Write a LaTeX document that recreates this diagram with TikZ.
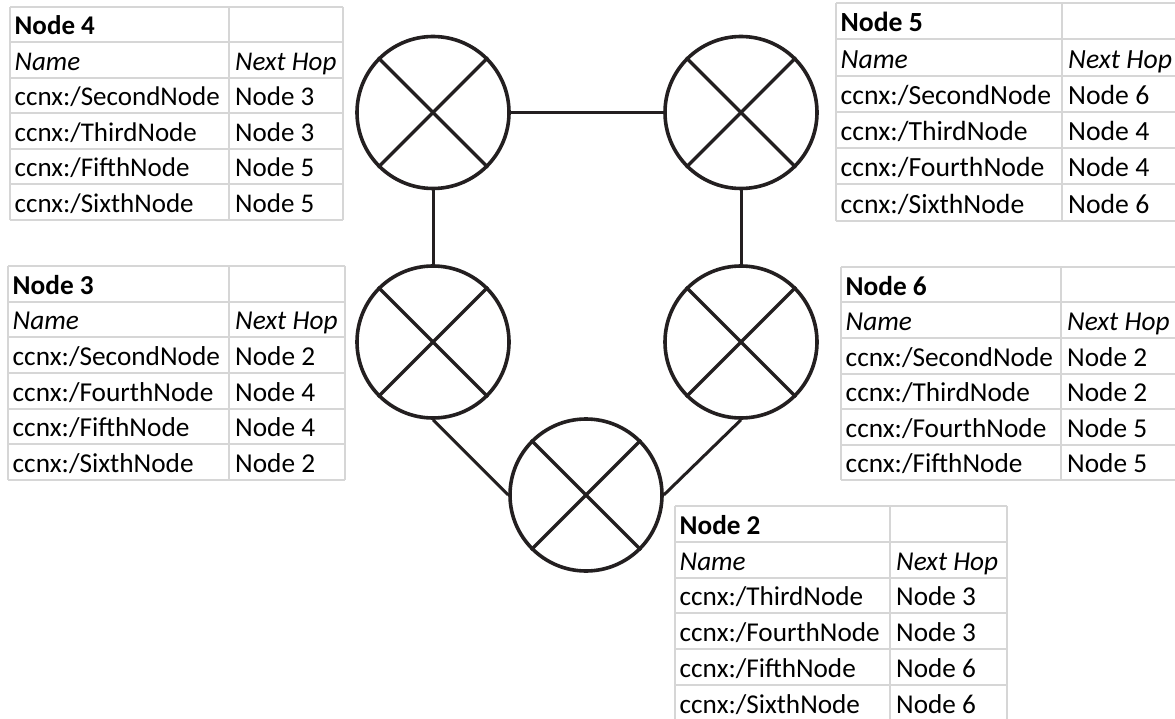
\documentclass[tikz,border=0pt]{standalone}
\usepackage{fontspec}
\setmainfont{Carlito}

\definecolor{gridgray}{HTML}{D6D6D6}
\definecolor{ink}{HTML}{231F20}

% Forwarding table: #1 name, #2 left x, #3 divider x, #4 right x,
% #5 top y, #6 row height, #7 title, #8 list of {prefix}/{next hop} pairs,
% #9 font size
\newcommand\fibtable[9]{%
  \foreach \i in {0,...,6}
    \draw[gridline] (#2,#5+\i*#6) -- (#4,#5+\i*#6);
  \foreach \xx in {#2,#3,#4}
    \draw[gridline] (\xx,#5) -- (\xx,#5+6*#6);
  \node[cell,font=\fontsize{#9}{#9}\selectfont\bfseries] (#1-title)
    at (#2,#5+#6) {#7};
  \node[cell,font=\fontsize{#9}{#9}\selectfont\itshape] (#1-hname)
    at (#2,#5+2*#6) {Name};
  \node[cell,xshift=1.5pt,font=\fontsize{#9}{#9}\selectfont\itshape] (#1-hhop)
    at (#3,#5+2*#6) {Next Hop};
  \foreach \nm/\hp [count=\k from 3] in {#8} {
    \node[cell,font=\fontsize{#9}{#9}\selectfont] (#1-n\k)
      at (#2,#5+\k*#6) {\nm};
    \node[cell,xshift=1.5pt,font=\fontsize{#9}{#9}\selectfont] (#1-h\k)
      at (#3,#5+\k*#6) {\hp};
  }%
}

\tikzset{
  gridline/.style={draw=gridgray, line width=2pt},
  cell/.style={anchor=base west, inner sep=0pt, xshift=4.5pt, yshift=7.5pt,
               text=black},
  router/.style={circle, draw=ink, line width=3.6pt, minimum size=152pt,
                 inner sep=0pt},
  crossline/.style={draw=ink, line width=3.3pt},
  link/.style={draw=ink, line width=3pt},
}

\begin{document}
\begin{tikzpicture}[x=1pt,y=-1pt]
  \useasboundingbox (0,0) rectangle (1175,719);
  \clip (0,0) rectangle (1175,719);

  % routing tables
  \fibtable{t4}{10}{229}{343}{7}{35.5}{Node 4}%
    {{ccnx:/SecondNode}/{Node 3}, {ccnx:/ThirdNode}/{Node 3},
     {ccnx:/FifthNode}/{Node 5}, {ccnx:/SixthNode}/{Node 5}}{27}
  \fibtable{t3}{8}{229}{345}{266}{35.67}{Node 3}%
    {{ccnx:/SecondNode}/{Node 2}, {ccnx:/FourthNode}/{Node 4},
     {ccnx:/FifthNode}/{Node 4}, {ccnx:/SixthNode}/{Node 2}}{27.3}
  \fibtable{t5}{836}{1062}{1185}{3}{36.3}{Node 5}%
    {{ccnx:/SecondNode}/{Node 6}, {ccnx:/ThirdNode}/{Node 4},
     {ccnx:/FourthNode}/{Node 4}, {ccnx:/SixthNode}/{Node 6}}{27.7}
  \fibtable{t6}{841}{1061}{1185}{267}{35.5}{Node 6}%
    {{ccnx:/SecondNode}/{Node 2}, {ccnx:/ThirdNode}/{Node 2},
     {ccnx:/FourthNode}/{Node 5}, {ccnx:/FifthNode}/{Node 5}}{27.3}
  \fibtable{t2}{675}{890}{1007}{506}{35.8}{Node 2}%
    {{ccnx:/ThirdNode}/{Node 3}, {ccnx:/FourthNode}/{Node 3},
     {ccnx:/FifthNode}/{Node 6}, {ccnx:/SixthNode}/{Node 6}}{27.2}

  % routers
  \node[router] (r4) at (433,112.5) {};
  \node[router] (r5) at (741,112.5) {};
  \node[router] (r3) at (433,342) {};
  \node[router] (r6) at (741,342) {};
  \node[router] (r2) at (586,495) {};

  \foreach \r in {r4,r5,r3,r6,r2} {
    \draw[crossline] (\r.north west) -- (\r.south east);
    \draw[crossline] (\r.north east) -- (\r.south west);
  }

  % links
  \draw[link] (r4.east) -- (r5.west);
  \draw[link] (r4.south) -- (r3.north);
  \draw[link] (r5.south) -- (r6.north);
  \draw[link] (r3.south) -- (r2.west);
  \draw[link] (r6.south) -- (r2.east);
\end{tikzpicture}
\end{document}
